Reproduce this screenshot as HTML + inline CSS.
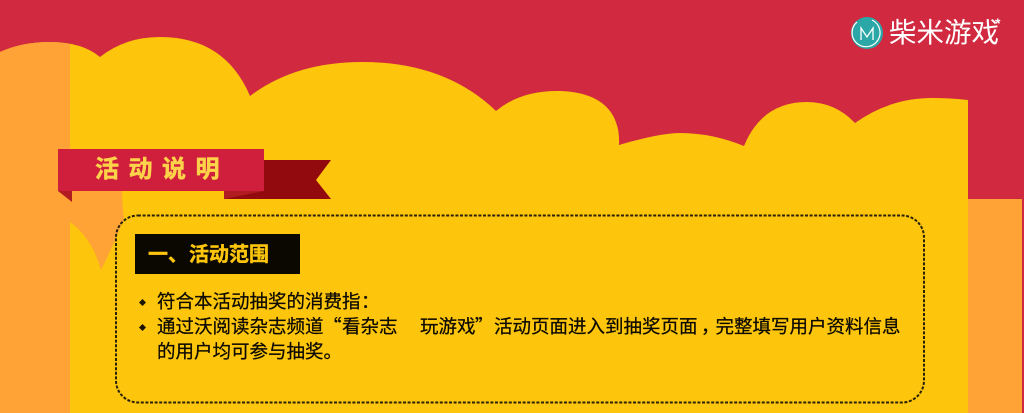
<!DOCTYPE html>
<html lang="zh-Hans">
<head>
<meta charset="utf-8">
<title>活动说明</title>
<style>
html,body{margin:0;padding:0;width:1024px;height:413px;overflow:hidden;background:#d12a40}
svg{display:block}
text{font-family:"Noto Sans CJK SC","Liberation Sans",sans-serif}
.body{font-size:18.500px;fill:#0c0a00;stroke:#0c0a00;stroke-width:.25px}
.tc{font-family:"Noto Sans CJK TC","Liberation Sans",sans-serif}
</style>
</head>
<body>
<svg xmlns="http://www.w3.org/2000/svg" width="1024" height="413" viewBox="0 0 1024 413">
  <rect x="0" y="0" width="1024" height="413" fill="#d12a40"/>
  <rect x="968" y="199" width="54" height="214" fill="#ffa336"/>
  <path d="M0 52 Q22 42 50 42 Q82 42 100 57 Q125 37 160 37 Q225 37 250 96 Q295 62 362 62 Q445 62 496 111 Q520 91 557 91 C592 91 621 105 619 145 Q660 133 680 133 Q712 133 744 146 Q762 102 807 102 Q835 102 855 123 Q890 98 932 98 Q950 98 968 100 L968 413 L0 413 Z" fill="#fdc50c"/>
  <path d="M0 52 Q22 42 50 42 Q60 42 70 44 L70 413 L0 413 Z" fill="#ffa336"/>
  <path d="M70 185 L122 185 Q122 208 124 218 Q116 240 101 270 Q92 238 70 222 Z" fill="#ffa336"/>

  <polygon points="264,160 331,160 316,180 331,199 224,199 224,191 264,191" fill="#920a0e"/>
  <polygon points="224,191 264,191 224,199" fill="#b01c20"/>
  <rect x="58" y="149" width="206" height="42" fill="#cf1f3d"/>
  <polygon points="58,191 72,191 72,202" fill="#b01c20"/>
  <text x="95 128.500 162 195.500" y="177" font-size="24" font-weight="700" fill="#fdd34a" stroke="#fdd34a" stroke-width=".5">活动说明</text>

  <rect x="116" y="215.500" width="808" height="187" rx="22" ry="22" fill="none" stroke="#2a2208" stroke-width="2" stroke-dasharray="3 1.600"/>
  <rect x="135" y="234" width="165" height="40" fill="#0a0800"/>
  <text x="148 168 189 209 229 249" y="261" font-size="20" font-weight="700" fill="#fdc50c" stroke="#fdc50c" stroke-width=".4">一、活动范围</text>

  <polygon points="142.500,299 146,302.500 142.500,306 139,302.500" fill="#1a1400"/>
  <polygon points="142.500,324 146,327.500 142.500,331 139,327.500" fill="#1a1400"/>
  <text class="body" y="308"><tspan x="157">符合本活动抽奖的消费指</tspan><tspan class="tc" x="361">：</tspan></text>
  <text class="body" y="333"><tspan x="157">通过沃阅读杂志频道</tspan><tspan x="323">“</tspan><tspan x="342">看杂志</tspan><tspan x="420">玩游戏</tspan><tspan x="475">”</tspan><tspan x="494">活动页面进入到抽奖页面</tspan><tspan x="701">，</tspan><tspan x="715.500">完整填写用户资料信息</tspan></text>
  <text class="body" x="157" y="358">的用户均可参与抽奖。</text>

  <g>
    <circle cx="867" cy="33" r="16" fill="#2aa7a6"/>
    <path d="M857 22 A14 14 0 1 0 872 20" fill="none" stroke="#fff" stroke-width="1.200"/>
    <path d="M861 40 L861 28 L867 37 L873 28 L873 40" fill="none" stroke="#fff" stroke-width="1.300"/>
    <text x="889" y="42" font-size="27.500" fill="#fff">柴米游戏</text>
    <text x="995" y="28" font-size="14" font-weight="700" fill="#fff" style="font-family:'Liberation Sans',sans-serif">*</text>
  </g>
</svg>
</body>
</html>
